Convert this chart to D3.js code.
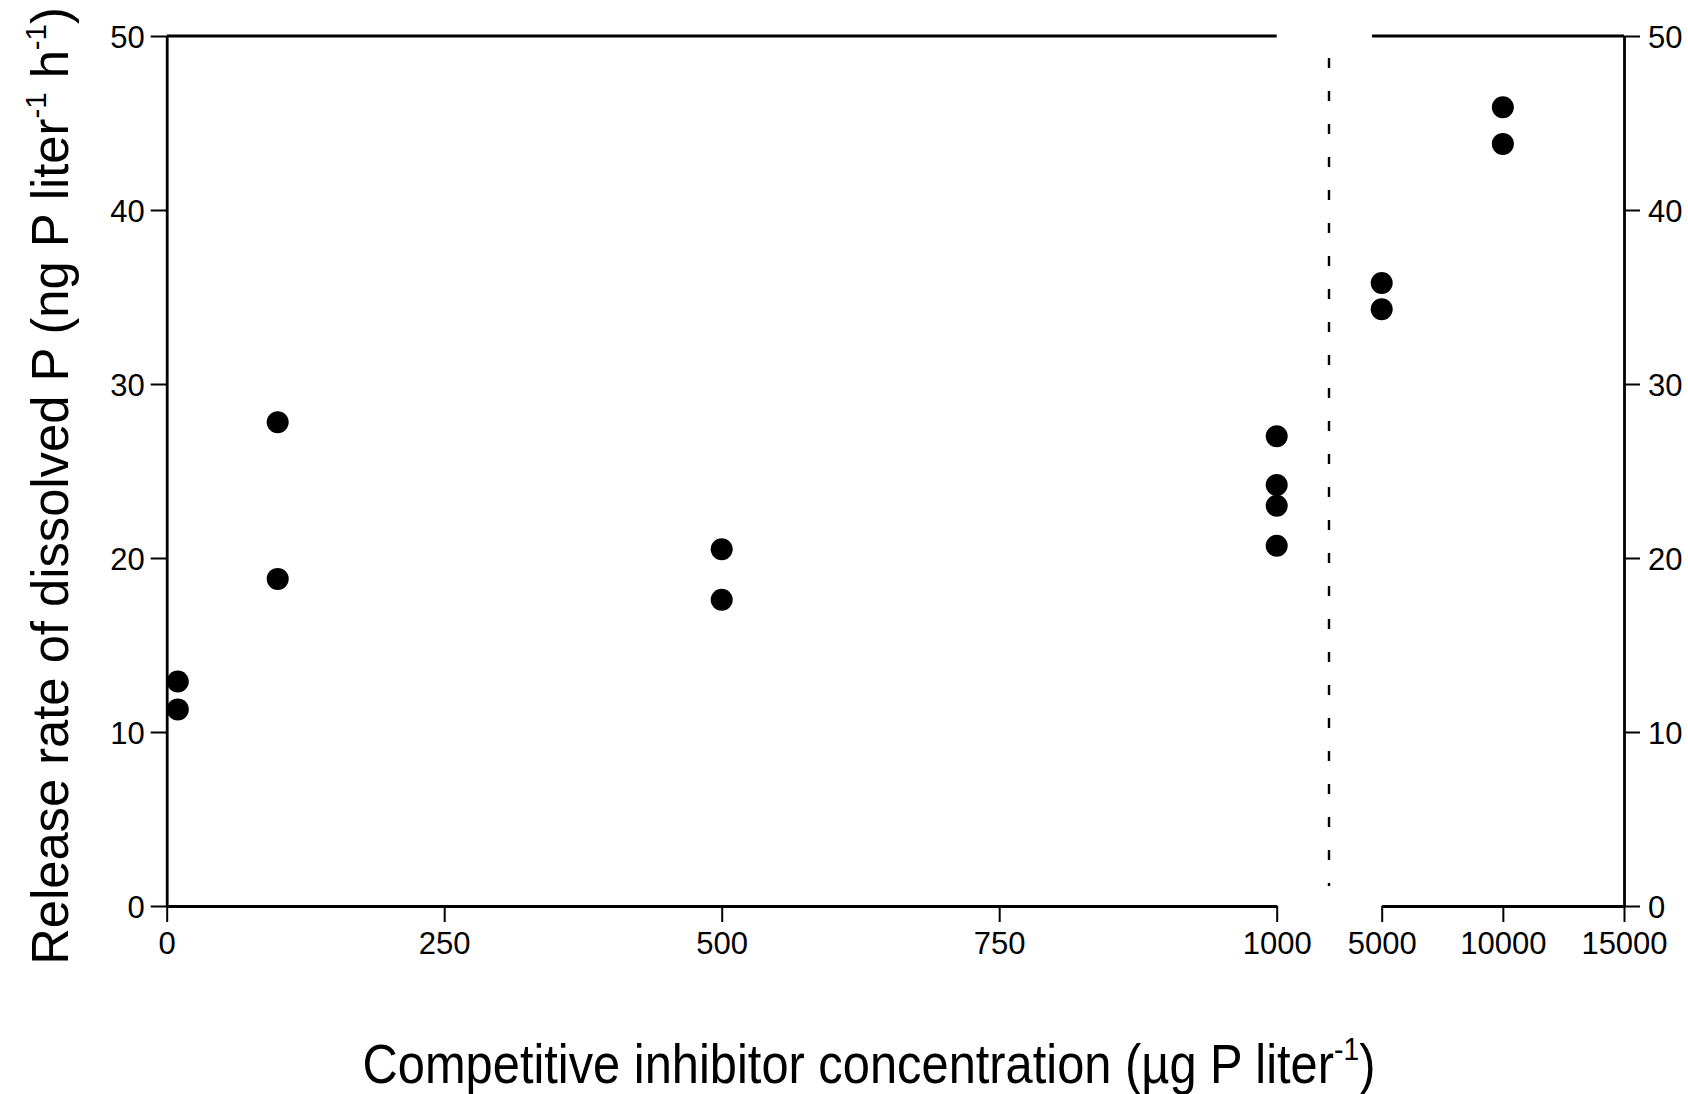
<!DOCTYPE html>
<html>
<head>
<meta charset="utf-8">
<script src="https://cdn.jsdelivr.net/npm/d3@7"></script>
<style>
  html, body { margin: 0; padding: 0; background: #fff; }
  svg { display: block; }
  text { font-family: "Liberation Sans", Arial, Helvetica, sans-serif; fill: #000; }
</style>
</head>
<body>
<script>
// Release rate of dissolved P versus competitive inhibitor concentration
const lowConc = [10, 10, 100, 100, 500, 500, 1000, 1000, 1000, 1000];
const lowRate = [12.9, 11.3, 27.8, 18.8, 20.5, 17.6, 27.0, 24.2, 23.0, 20.7];
const highConc = [5000, 5000, 10000, 10000];
const highRate = [35.8, 34.3, 45.9, 43.8];

const lowTicks = [0, 250, 500, 750, 1000];
const highTicks = [5000, 10000, 15000];
const yTicks = [0, 10, 20, 30, 40, 50];

const W = 1688, H = 1094;
const svg = d3.select("body").append("svg").attr("width", W).attr("height", H);

// Scales: a broken x axis (linear 0–1000, then 5000–15000)
const xLow = d3.scaleLinear().domain([0, 1000]).range([166.7, 1276.7]);
const xHigh = d3.scaleLinear().domain([5000, 15000]).range([1381.7, 1624]);
const y = d3.scaleLinear().domain([0, 50]).range([906, 36]);

const AX = 2.8;      // axis stroke
const MAJ = 16, MIN = 7, YMIN = 3;
const FONT = 31;
const fmt = d3.format("d");

function styleAxis(g) {
  g.attr("font-size", FONT).attr("font-family", "Liberation Sans, Arial, sans-serif");
  g.select(".domain").attr("stroke", "#000").attr("stroke-width", AX);
  g.selectAll(".tick line").attr("stroke", "#000").attr("stroke-width", 2);
  g.selectAll(".tick text").attr("font-size", FONT).attr("fill", "#000");
}

// Left y axis
const gL = svg.append("g").attr("transform", `translate(${xLow(0)},0)`);
gL.call(d3.axisLeft(y).tickValues(d3.range(0, 51, 2)).tickSize(YMIN).tickFormat("").tickSizeOuter(0));
gL.call(d3.axisLeft(y).tickValues(yTicks).tickSize(MAJ).tickPadding(6).tickFormat(fmt).tickSizeOuter(0));
styleAxis(gL);
gL.selectAll(".tick text").attr("dy", "0.36em");

// Right y axis
const gR = svg.append("g").attr("transform", `translate(${xHigh(15000)},0)`);
gR.call(d3.axisRight(y).tickValues(d3.range(0, 51, 2)).tickSize(YMIN).tickFormat("").tickSizeOuter(0));
gR.call(d3.axisRight(y).tickValues(yTicks).tickSize(MAJ).tickPadding(8).tickFormat(fmt).tickSizeOuter(0));
styleAxis(gR);
gR.selectAll(".tick text").attr("dy", "0.36em");

// Bottom axis, low segment
const gB1 = svg.append("g").attr("transform", `translate(0,${y(0)})`);
gB1.call(d3.axisBottom(xLow).tickValues(d3.range(0, 1001, 50)).tickSize(MIN).tickFormat("").tickSizeOuter(0));
gB1.call(d3.axisBottom(xLow).tickValues(lowTicks).tickSize(MAJ).tickPadding(10).tickFormat(fmt).tickSizeOuter(0));
styleAxis(gB1);

// Bottom axis, high segment
const gB2 = svg.append("g").attr("transform", `translate(0,${y(0)})`);
gB2.call(d3.axisBottom(xHigh).tickValues(d3.range(5000, 15001, 1000)).tickSize(MIN).tickFormat("").tickSizeOuter(0));
gB2.call(d3.axisBottom(xHigh).tickValues(highTicks).tickSize(MAJ).tickPadding(10).tickFormat(fmt).tickSizeOuter(0));
styleAxis(gB2);

// Top frame lines (broken like the x axis)
svg.append("line").attr("x1", xLow(0)).attr("x2", xLow(1000)).attr("y1", y(50)).attr("y2", y(50))
  .attr("stroke", "#000").attr("stroke-width", AX);
svg.append("line").attr("x1", xHigh(4600)).attr("x2", xHigh(15000)).attr("y1", y(50)).attr("y2", y(50))
  .attr("stroke", "#000").attr("stroke-width", AX);

// Dashed separator at the axis break
svg.append("line").attr("x1", 1329).attr("x2", 1329).attr("y1", 58).attr("y2", 886)
  .attr("stroke", "#000").attr("stroke-width", 2.4).attr("stroke-dasharray", "10 23");

// Data points
const R = 11;
svg.append("g").selectAll("circle").data(d3.zip(lowConc, lowRate)).join("circle")
  .attr("cx", d => xLow(d[0])).attr("cy", d => y(d[1])).attr("r", R).attr("fill", "#000");
svg.append("g").selectAll("circle").data(d3.zip(highConc, highRate)).join("circle")
  .attr("cx", d => xHigh(d[0])).attr("cy", d => y(d[1])).attr("r", R).attr("fill", "#000");

// Axis titles with superscripts, condensed horizontally to the plotted width
function title(g, parts, size, target) {
  const t = g.append("text").attr("x", 0).attr("y", 0).attr("text-anchor", "middle").attr("font-size", size);
  parts.forEach(p => {
    const s = t.append("tspan").text(p.t);
    if (p.sup) s.attr("font-size", size * 0.58).attr("dy", -size * 0.42);
    if (p.down) s.attr("dy", size * 0.42);
  });
  const len = t.node().getComputedTextLength();
  t.attr("transform", `scale(${target / len},1)`);
  return t;
}

const gx = svg.append("g").attr("transform", "translate(869,1083)");
title(gx, [
  { t: "Competitive inhibitor concentration (µg P liter" },
  { t: "-1", sup: true },
  { t: ")", down: true }
], 55, 1013);

const gy = svg.append("g").attr("transform", "translate(68,486) rotate(-90)");
title(gy, [
  { t: "Release rate of dissolved P (ng P liter" },
  { t: "-1", sup: true },
  { t: " h", down: true },
  { t: "-1", sup: true },
  { t: ")", down: true }
], 52, 958);
</script>
</body>
</html>
